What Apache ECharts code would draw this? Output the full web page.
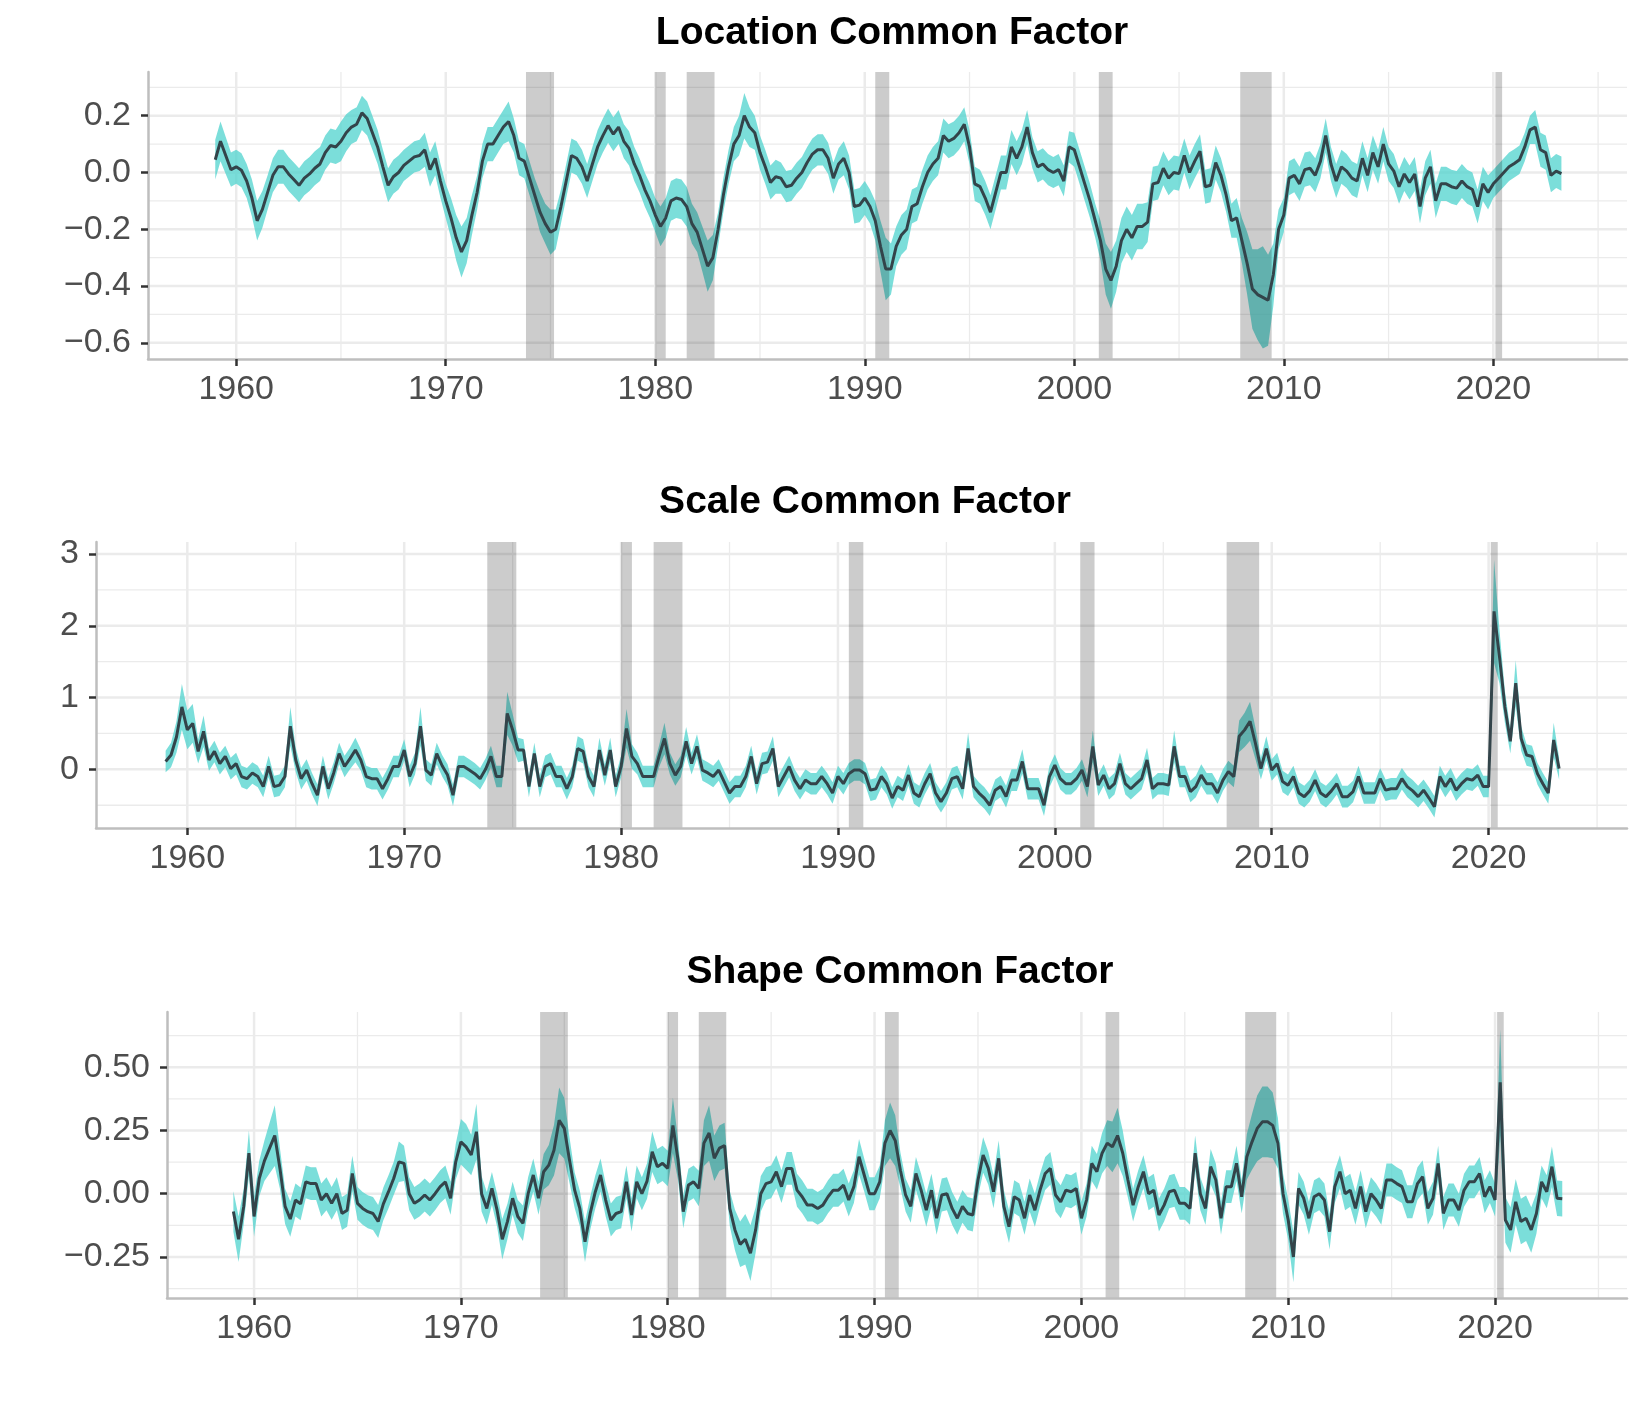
<!DOCTYPE html>
<html>
<head>
<meta charset="utf-8">
<script src="https://cdn.jsdelivr.net/npm/echarts@6/dist/echarts.min.js"></script>
<style>html,body{margin:0;padding:0;background:#fff}#chart{width:1644px;height:1409px}</style>
</head>
<body>
<div id="chart"></div>
<script>
// ---------------- DATA (quarterly, first point 1959 Q1) ----------------
const startYear = 1959;
const stepYears = 0.25;

const locationMean = [
  0.045, 0.11, 0.06, 0.01,      // 1959
  0.02, 0.008, -0.03, -0.09,    // 1960
  -0.17, -0.13, -0.07, -0.01,   // 1961
  0.02, 0.02, -0.005, -0.025,   // 1962
  -0.045, -0.02, -0.005, 0.015, // 1963
  0.03, 0.07, 0.095, 0.09,      // 1964
  0.11, 0.14, 0.16, 0.17,       // 1965
  0.21, 0.19, 0.14, 0.09,       // 1966
  0.02, -0.045, -0.015, 0.0,    // 1967
  0.025, 0.04, 0.055, 0.06,     // 1968
  0.08, 0.01, 0.05, -0.03,      // 1969
  -0.1, -0.16, -0.23, -0.28,    // 1970
  -0.24, -0.15, -0.07, 0.04,    // 1971
  0.1, 0.1, 0.13, 0.16,         // 1972
  0.18, 0.13, 0.05, 0.04,       // 1973
  -0.02, -0.08, -0.14, -0.18,   // 1974
  -0.21, -0.2, -0.12, -0.03,    // 1975
  0.06, 0.05, 0.02, -0.03,      // 1976
  0.03, 0.09, 0.13, 0.165,      // 1977
  0.135, 0.16, 0.11, 0.085,     // 1978
  0.03, -0.01, -0.06, -0.1,     // 1979
  -0.15, -0.19, -0.16, -0.1,    // 1980
  -0.09, -0.095, -0.12, -0.18,  // 1981
  -0.21, -0.27, -0.33, -0.3,    // 1982
  -0.2, -0.08, 0.02, 0.1,       // 1983
  0.13, 0.2, 0.16, 0.14,        // 1984
  0.07, 0.02, -0.035, -0.015,   // 1985
  -0.02, -0.05, -0.045, -0.02,  // 1986
  0.0, 0.035, 0.065, 0.08,      // 1987
  0.08, 0.05, -0.02, 0.03,      // 1988
  0.05, 0.0, -0.12, -0.115,     // 1989
  -0.09, -0.12, -0.17, -0.26,   // 1990
  -0.34, -0.34, -0.26, -0.22,   // 1991
  -0.2, -0.12, -0.11, -0.05,    // 1992
  0.0, 0.03, 0.05, 0.13,        // 1993
  0.11, 0.12, 0.14, 0.17,       // 1994
  0.09, -0.04, -0.05, -0.09,    // 1995
  -0.14, -0.07, 0.0, 0.0,       // 1996
  0.09, 0.05, 0.09, 0.16,       // 1997
  0.07, 0.02, 0.03, 0.01,       // 1998
  0.0, 0.01, -0.03, 0.09,       // 1999
  0.08, 0.02, -0.04, -0.1,      // 2000
  -0.17, -0.24, -0.34, -0.38,   // 2001
  -0.33, -0.24, -0.2, -0.23,    // 2002
  -0.19, -0.19, -0.175, -0.04,  // 2003
  -0.035, 0.015, -0.02, 0.0,    // 2004
  -0.004, 0.06, 0.0, 0.04,      // 2005
  0.075, -0.05, -0.045, 0.035,  // 2006
  -0.01, -0.08, -0.17, -0.16,   // 2007
  -0.24, -0.32, -0.41, -0.43,   // 2008
  -0.44, -0.45, -0.36, -0.2,    // 2009
  -0.15, -0.02, -0.01, -0.04,   // 2010
  0.01, 0.015, -0.01, 0.04,     // 2011
  0.13, 0.03, -0.03, 0.02,      // 2012
  0.005, -0.02, -0.03, 0.05,    // 2013
  -0.01, 0.07, 0.02, 0.1,       // 2014
  0.03, 0.005, -0.05, -0.005,   // 2015
  -0.035, -0.005, -0.12, -0.02, // 2016
  0.02, -0.1, -0.04, -0.04,     // 2017
  -0.05, -0.055, -0.03, -0.05,  // 2018
  -0.06, -0.12, -0.04, -0.07,   // 2019
  -0.04, -0.02, 0.0, 0.02,      // 2020
  0.032, 0.045, 0.09, 0.15,     // 2021
  0.16, 0.08, 0.07, -0.01,      // 2022
  0.005, -0.004                 // 2023
];
const locationHalfWidth = [
  .07,.07,.065,.06, .06,.06,.06,.065, .07,.065,.06,.06, .06,.06,.06,.06,   // 1959-62
  .06,.06,.06,.06, .06,.06,.06,.06, .07,.065,.06,.06, .06,.06,.06,.06,     // 1963-66
  .06,.06,.06,.06, .055,.055,.055,.055, .06,.06,.06,.06, .06,.07,.08,.09,  // 1967-70
  .08,.07,.06,.06, .06,.06,.06,.06, .07,.06,.06,.06, .06,.06,.07,.07,      // 1971-74
  .08,.07,.06,.06, .06,.06,.06,.06, .06,.06,.06,.06, .06,.06,.06,.06,      // 1975-78
  .06,.06,.06,.06, .06,.07,.07,.07, .07,.07,.07,.07, .07,.08,.09,.08,      // 1979-82
  .06,.06,.06,.06, .07,.08,.07,.06, .06,.06,.06,.06, .055,.055,.055,.055,  // 1983-86
  .055,.055,.055,.055, .055,.055,.055,.055, .06,.06,.06,.06, .06,.06,.07,.09, // 1987-90
  .11,.09,.07,.07, .07,.06,.06,.06, .06,.06,.06,.06, .06,.06,.06,.06,      // 1991-94
  .06,.06,.06,.06, .06,.06,.06,.06, .06,.06,.06,.06, .055,.055,.055,.055,  // 1995-98
  .055,.055,.055,.055, .06,.06,.06,.06, .06,.07,.09,.1, .09,.08,.08,.08,   // 1999-2002
  .08,.08,.07,.06, .06,.06,.06,.06, .06,.06,.06,.06, .06,.06,.06,.06,      // 2003-06
  .06,.06,.06,.07, .08,.11,.14,.16, .18,.16,.11,.07, .06,.06,.06,.06,      // 2007-10
  .06,.06,.06,.06, .06,.06,.06,.06, .06,.06,.06,.06, .06,.06,.06,.06,      // 2011-14
  .06,.06,.06,.06, .06,.06,.06,.06, .06,.06,.06,.06, .06,.06,.06,.06,      // 2015-18
  .06,.06,.06,.06, .05,.05,.05,.05, .05,.05,.05,.05, .06,.06,.06,.06,      // 2019-22
  .06,.06                                                                   // 2023
];

const scaleMean = [
  0.11, 0.2, 0.45, 0.87,        // 1959
  0.55, 0.64, 0.25, 0.53,       // 1960
  0.13, 0.25, 0.08, 0.18,       // 1961
  0.01, 0.08, -0.1, -0.13,      // 1962
  -0.05, -0.1, -0.24, 0.04,     // 1963
  -0.24, -0.22, -0.1, 0.6,      // 1964
  0.13, -0.13, -0.01, -0.2,     // 1965
  -0.36, 0.04, -0.27, -0.05,    // 1966
  0.22, 0.04, 0.15, 0.27,       // 1967
  0.13, -0.1, -0.13, -0.13,     // 1968
  -0.27, -0.13, 0.04, 0.04,     // 1969
  0.27, -0.1, 0.08, 0.6,        // 1970
  -0.01, -0.08, 0.22, 0.05,     // 1971
  -0.08, -0.36, 0.04, 0.04,     // 1972
  -0.01, -0.06, -0.13, 0.0,     // 1973
  0.18, -0.1, -0.1, 0.78,       // 1974
  0.55, 0.27, 0.27, -0.24,      // 1975
  0.22, -0.24, 0.04, 0.08,      // 1976
  -0.1, -0.1, -0.27, -0.1,      // 1977
  0.29, 0.25, -0.1, -0.24,      // 1978
  0.27, -0.08, 0.27, -0.24,     // 1979
  0.04, 0.57, 0.18, 0.08,       // 1980
  -0.1, -0.1, -0.1, 0.18,       // 1981
  0.43, 0.08, -0.08, 0.04,      // 1982
  0.39, 0.08, 0.32, -0.01,      // 1983
  -0.05, -0.1, -0.01, -0.17,    // 1984
  -0.33, -0.24, -0.24, -0.1,    // 1985
  0.18, -0.2, 0.08, 0.1,        // 1986
  0.29, -0.24, -0.1, 0.04,      // 1987
  -0.15, -0.27, -0.15, -0.2,    // 1988
  -0.2, -0.1, -0.2, -0.33,      // 1989
  -0.1, -0.2, -0.06, -0.01,     // 1990
  -0.01, -0.06, -0.29, -0.27,   // 1991
  -0.1, -0.2, -0.4, -0.24,      // 1992
  -0.29, -0.08, -0.33, -0.38,   // 1993
  -0.2, -0.06, -0.33, -0.45,    // 1994
  -0.33, -0.13, -0.1, -0.27,    // 1995
  0.29, -0.24, -0.33, -0.4,     // 1996
  -0.5, -0.29, -0.24, -0.38,    // 1997
  -0.15, -0.15, 0.11, -0.27,    // 1998
  -0.27, -0.27, -0.5, -0.1,     // 1999
  0.06, -0.13, -0.2, -0.2,      // 2000
  -0.13, -0.01, -0.24, 0.32,    // 2001
  -0.22, -0.08, -0.27, -0.2,    // 2002
  0.08, -0.2, -0.27, -0.2,      // 2003
  -0.13, 0.13, -0.27, -0.2,     // 2004
  -0.2, -0.22, 0.32, -0.1,      // 2005
  -0.1, -0.31, -0.24, -0.08,    // 2006
  -0.2, -0.2, -0.33, -0.15,     // 2007
  -0.03, -0.1, 0.46, 0.55,      // 2008
  0.67, 0.36, 0.01, 0.29,       // 2009
  -0.01, 0.08, -0.17, -0.22,    // 2010
  -0.1, -0.33, -0.38, -0.3,     // 2011
  -0.15, -0.33, -0.38, -0.3,    // 2012
  -0.2, -0.38, -0.38, -0.31,    // 2013
  -0.1, -0.33, -0.33, -0.33,    // 2014
  -0.13, -0.29, -0.27, -0.27,   // 2015
  -0.13, -0.24, -0.3, -0.38,    // 2016
  -0.29, -0.4, -0.52, -0.1,     // 2017
  -0.24, -0.13, -0.29, -0.2,    // 2018
  -0.13, -0.15, -0.08, -0.24,   // 2019
  -0.24, 2.2, 1.57, 0.87,       // 2020
  0.39, 1.2, 0.43, 0.2,         // 2021
  0.18, -0.06, -0.2, -0.33,     // 2022
  0.41, 0.01                    // 2023
];
const scaleHalfWidth = [
  .15,.17,.22,.32, .27,.27,.17,.22, .15,.15,.15,.15, .15,.15,.15,.15,      // 1959-62
  .15,.15,.15,.15, .15,.15,.15,.27, .17,.15,.15,.15, .15,.15,.15,.15,      // 1963-66
  .15,.15,.15,.17, .15,.15,.15,.15, .15,.15,.15,.15, .15,.15,.15,.27,      // 1967-70
  .15,.15,.15,.15, .15,.15,.15,.15, .15,.15,.15,.15, .15,.15,.15,.3,       // 1971-74
  .22,.17,.15,.15, .15,.15,.15,.15, .15,.15,.15,.15, .17,.17,.15,.15,      // 1975-78
  .17,.15,.17,.15, .15,.27,.17,.15, .15,.15,.15,.15, .22,.15,.15,.15,      // 1979-82
  .2,.15,.17,.15, .15,.15,.15,.15, .15,.15,.15,.15, .15,.15,.15,.15,       // 1983-86
  .17,.15,.15,.15, .15,.15,.15,.15, .15,.15,.15,.15, .15,.15,.15,.15,      // 1987-90
  .15,.15,.15,.15, .15,.15,.15,.15, .15,.15,.15,.15, .15,.15,.15,.15,      // 1991-94
  .15,.15,.15,.15, .22,.15,.15,.15, .15,.15,.15,.15, .15,.15,.17,.15,      // 1995-98
  .15,.15,.15,.15, .15,.15,.15,.15, .15,.15,.15,.22, .15,.15,.15,.15,      // 1999-2002
  .15,.15,.15,.15, .15,.17,.15,.15, .15,.15,.22,.15, .15,.15,.15,.15,      // 2003-06
  .15,.15,.15,.15, .15,.15,.22,.24, .27,.22,.15,.17, .15,.15,.15,.15,      // 2007-10
  .15,.15,.15,.15, .15,.15,.15,.15, .15,.15,.15,.15, .15,.15,.15,.15,      // 2011-14
  .15,.15,.15,.15, .15,.15,.15,.15, .15,.15,.15,.15, .15,.15,.15,.15,      // 2015-18
  .15,.15,.15,.15, .15,.72,.37,.22, .17,.32,.17,.15, .15,.15,.15,.15,      // 2019-22
  .24,.15                                                                   // 2023
];

const shapeMean = [
  -0.07, -0.18, -0.05, 0.16,     // 1959
  -0.09, 0.06, 0.13, 0.18,       // 1960
  0.23, 0.1, -0.05, -0.1,        // 1961
  -0.025, -0.04, 0.047, 0.04,    // 1962
  0.04, -0.025, 0.0, -0.038,     // 1963
  0.0, -0.078, -0.065, 0.08,     // 1964
  -0.038, -0.058, -0.071, -0.078,// 1965
  -0.11, -0.04, 0.008, 0.06,     // 1966
  0.126, 0.12, 0.0, -0.038,      // 1967
  -0.025, -0.005, -0.025, 0.0,   // 1968
  0.028, 0.047, -0.018, 0.126,   // 1969
  0.205, 0.185, 0.153, 0.245,    // 1970
  0.0, -0.058, 0.021, -0.065,    // 1971
  -0.18, -0.11, -0.018, -0.09,   // 1972
  -0.117, 0.0, 0.074, -0.018,    // 1973
  0.087, 0.113, 0.172, 0.29,     // 1974
  0.258, 0.133, 0.014, -0.058,   // 1975
  -0.19, -0.078, 0.008, 0.074,   // 1976
  -0.025, -0.104, -0.078, -0.071,// 1977
  0.047, -0.084, 0.047, 0.0,     // 1978
  0.05, 0.166, 0.107, 0.12,      // 1979
  0.1, 0.27, 0.133, -0.071,      // 1980
  0.034, 0.047, 0.021, 0.2,      // 1981
  0.24, 0.14, 0.18, 0.19,        // 1982
  -0.058, -0.143, -0.2, -0.18,   // 1983
  -0.235, -0.143, 0.0, 0.04,     // 1984
  0.047, 0.087, 0.028, 0.1,      // 1985
  0.1, 0.014, -0.012, -0.045,    // 1986
  -0.045, -0.058, -0.045, -0.012,// 1987
  0.014, 0.014, 0.034, -0.025,   // 1988
  0.028, 0.146, 0.074, 0.0,      // 1989
  0.0, 0.047, 0.2, 0.25,         // 1990
  0.21, 0.093, -0.005, -0.05,    // 1991
  0.08, 0.014, -0.065, 0.014,    // 1992
  -0.097, -0.005, 0.0, -0.058,   // 1993
  -0.097, -0.05, -0.078, -0.084, // 1994
  0.054, 0.153, 0.1, 0.008,      // 1995
  0.14, -0.05, -0.13, -0.012,    // 1996
  -0.025, -0.097, -0.005, -0.065,// 1997
  0.014, 0.08, 0.1, -0.005,      // 1998
  -0.032, 0.014, 0.008, 0.021,   // 1999
  -0.097, -0.025, 0.12, 0.087,   // 2000
  0.16, 0.2, 0.185, 0.23,        // 2001
  0.16, 0.054, -0.045, 0.028,    // 2002
  0.087, 0.0, 0.014, -0.084,     // 2003
  -0.045, 0.008, 0.014, -0.038,  // 2004
  -0.038, -0.058, 0.16, 0.0,     // 2005
  -0.058, 0.107, 0.054, -0.097,  // 2006
  0.028, 0.028, 0.12, -0.012,    // 2007
  0.146, 0.205, 0.258, 0.284,    // 2008
  0.284, 0.27, 0.2, 0.0,         // 2009
  -0.104, -0.25, 0.021, -0.018,  // 2010
  -0.097, -0.012, 0.0, -0.025,   // 2011
  -0.15, 0.028, 0.087, 0.0,      // 2012
  0.014, -0.058, 0.028, -0.071,  // 2013
  0.0, -0.025, -0.058, 0.054,    // 2014
  0.054, 0.04, 0.028, -0.032,    // 2015
  -0.032, 0.04, 0.067, -0.058,   // 2016
  -0.018, 0.12, -0.078, -0.025,  // 2017
  -0.025, -0.065, 0.014, 0.047,  // 2018
  0.047, 0.08, -0.012, 0.028,    // 2019
  -0.025, 0.44, -0.104, -0.143,  // 2020
  -0.032, -0.11, -0.097, -0.143, // 2021
  -0.078, 0.047, 0.008, 0.107,   // 2022
  -0.018, -0.02                  // 2023
];
const shapeHalfWidth = [
  .08,.09,.07,.09, .08,.07,.08,.1, .12,.08,.07,.07, .065,.065,.065,.065,   // 1959-62
  .065,.065,.065,.065, .065,.065,.065,.07, .065,.065,.065,.065, .065,.065,.065,.065, // 1963-66
  .08,.07,.065,.065, .065,.065,.065,.065, .065,.065,.065,.07, .09,.09,.08,.11, // 1967-70
  .07,.065,.065,.065, .08,.07,.065,.065, .07,.065,.065,.065, .07,.08,.1,.13, // 1971-74
  .12,.09,.07,.07, .08,.065,.065,.065, .065,.065,.065,.065, .065,.065,.065,.065, // 1975-78
  .07,.08,.07,.07, .07,.11,.08,.065, .065,.065,.07,.09, .11,.09,.09,.09,   // 1979-82
  .07,.08,.09,.1, .11,.09,.07,.065, .065,.065,.065,.065, .065,.065,.065,.065, // 1983-86
  .065,.065,.065,.065, .065,.065,.065,.065, .065,.07,.065,.065, .065,.065,.09,.11, // 1987-90
  .1,.07,.065,.065, .065,.065,.065,.065, .065,.065,.065,.065, .065,.065,.065,.065, // 1991-94
  .065,.07,.065,.065, .07,.065,.065,.065, .065,.065,.065,.065, .065,.065,.065,.065, // 1995-98
  .065,.065,.065,.065, .065,.065,.07,.07, .08,.09,.1,.11, .09,.07,.065,.065, // 1999-2002
  .065,.065,.065,.065, .065,.065,.065,.065, .065,.065,.07,.065, .065,.07,.065,.065, // 2003-06
  .065,.065,.07,.065, .09,.11,.13,.14, .14,.13,.1,.08, .08,.1,.065,.065,   // 2007-10
  .065,.065,.065,.065, .07,.065,.065,.065, .065,.065,.065,.065, .065,.065,.065,.065, // 2011-14
  .065,.065,.065,.065, .065,.065,.065,.065, .065,.07,.065,.065, .065,.065,.065,.065, // 2015-18
  .065,.065,.065,.065, .065,.21,.09,.09, .09,.09,.09,.09, .08,.065,.065,.08, // 2019-22
  .07,.07                                                                   // 2023
];

// NBER recessions shown (start, end) in decimal years
const recessions = [
  [1973.83, 1975.17], [1980.0, 1980.5], [1981.5, 1982.83], [1990.5, 1991.17],
  [2001.17, 2001.83], [2007.92, 2009.42], [2020.1, 2020.42]
];

// axis ticks
const yearTicks = [1960, 1970, 1980, 1990, 2000, 2010, 2020];
const yearMinorTicks = [1965, 1975, 1985, 1995, 2005, 2015, 2025];
const locationTicks = [-0.6, -0.4, -0.2, 0, 0.2];
const locationMinorTicks = [-0.5, -0.3, -0.1, 0.1, 0.3];
const scaleTicks = [0, 1, 2, 3];
const scaleMinorTicks = [-0.5, 0.5, 1.5, 2.5];
const shapeTicks = [-0.25, 0, 0.25, 0.5];
const shapeMinorTicks = [-0.375, -0.125, 0.125, 0.375, 0.625];

const titles = ['Location Common Factor', 'Scale Common Factor', 'Shape Common Factor'];

// ---------------- CHART ----------------
const times = locationMean.map((_, i) => startYear + i * stepYears);
const X_MIN = 1955.79, X_MAX = 2026.38;

const FONT = '"Liberation Sans", Arial, Helvetica, sans-serif';
const LINE_COLOR = '#33444A';
const RIBBON = 'rgba(72,209,204,0.72)';
const SHADE = 'rgba(0,0,0,0.2)';
const GRID_COLOR = '#EBEBEB';

const minus = s => s.replace('-', '\u2212');

const panels = [
  { grid: {left: 148, right: 17, top: 72, height: 287}, yMin: -0.657, yMax: 0.354,
    ticks: locationTicks, minor: locationMinorTicks, mean: locationMean, hw: locationHalfWidth,
    fmt: v => minus(v.toFixed(1)), titleX: 892, titleY: 33 },
  { grid: {left: 96, right: 17, top: 542, height: 286}, yMin: -0.817, yMax: 3.167,
    ticks: scaleTicks, minor: scaleMinorTicks, mean: scaleMean, hw: scaleHalfWidth,
    fmt: v => minus(String(v)), titleX: 865, titleY: 502 },
  { grid: {left: 167, right: 17, top: 1012, height: 286}, yMin: -0.412, yMax: 0.718,
    ticks: shapeTicks, minor: shapeMinorTicks, mean: shapeMean, hw: shapeHalfWidth,
    fmt: v => minus(v.toFixed(2)), titleX: 900, titleY: 972 }
];

function gridLinesRender(p) {
  return function (params, api) {
    const cs = params.coordSys;
    const kids = [];
    const vline = (v, w) => {
      const x = api.coord([v, p.yMin])[0];
      kids.push({type: 'line', shape: {x1: x, y1: cs.y, x2: x, y2: cs.y + cs.height},
        style: {stroke: GRID_COLOR, lineWidth: w}});
    };
    const hline = (v, w) => {
      const y = api.coord([X_MIN, v])[1];
      kids.push({type: 'line', shape: {x1: cs.x, y1: y, x2: cs.x + cs.width, y2: y},
        style: {stroke: GRID_COLOR, lineWidth: w}});
    };
    yearMinorTicks.forEach(v => vline(v, 1.3));
    p.minor.forEach(v => hline(v, 1.3));
    yearTicks.forEach(v => vline(v, 2.5));
    p.ticks.forEach(v => hline(v, 2.5));
    return {type: 'group', children: kids, silent: true};
  };
}
function ribbonRender(p) {
  return function (params, api) {
    const pts = [];
    for (let i = 0; i < times.length; i++) pts.push(api.coord([times[i], p.mean[i] + p.hw[i]]));
    for (let i = times.length - 1; i >= 0; i--) pts.push(api.coord([times[i], p.mean[i] - p.hw[i]]));
    return {type: 'polygon', shape: {points: pts}, style: {fill: RIBBON}, silent: true};
  };
}
function shadeRender(p) {
  return function (params, api) {
    const cs = params.coordSys;
    return {type: 'group', silent: true, children: recessions.map(r => {
      const x0 = api.coord([r[0], p.yMin])[0];
      const x1 = api.coord([r[1], p.yMin])[0];
      return {type: 'rect', shape: {x: x0, y: cs.y, width: x1 - x0, height: cs.height},
        style: {fill: SHADE}};
    })};
  };
}

const option = {
  animation: false,
  backgroundColor: '#ffffff',
  grid: panels.map(p => p.grid),
  xAxis: panels.map((p, i) => ({
    gridIndex: i, type: 'value', min: X_MIN, max: X_MAX, z: 10,
    axisLine: {show: true, onZero: false, lineStyle: {color: '#BEBEBE', width: 2.5}},
    axisTick: {show: true, customValues: yearTicks, length: 7, lineStyle: {color: '#333333', width: 2.5}},
    axisLabel: {show: true, customValues: yearTicks, formatter: v => String(v), fontSize: 34,
      color: '#4D4D4D', fontFamily: FONT, margin: 14},
    splitLine: {show: false}
  })),
  yAxis: panels.map((p, i) => ({
    gridIndex: i, type: 'value', min: p.yMin, max: p.yMax, z: 10,
    axisLine: {show: true, onZero: false, lineStyle: {color: '#BEBEBE', width: 2.5}},
    axisTick: {show: true, customValues: p.ticks, length: 7, lineStyle: {color: '#333333', width: 2.5}},
    axisLabel: {show: true, customValues: p.ticks, formatter: p.fmt, fontSize: 34,
      color: '#4D4D4D', fontFamily: FONT, margin: 17},
    splitLine: {show: false}
  })),
  series: [],
  graphic: panels.map((p, i) => ({
    type: 'text', x: p.titleX, y: p.titleY, silent: true,
    style: {text: titles[i], fill: '#000000', fontSize: 39, fontWeight: 'bold', fontFamily: FONT,
      textAlign: 'center', textVerticalAlign: 'middle', align: 'center', verticalAlign: 'middle'}
  }))
};

panels.forEach((p, i) => {
  option.series.push({
    type: 'custom', xAxisIndex: i, yAxisIndex: i, z: 1, silent: true,
    renderItem: gridLinesRender(p), data: [[2000, 0]]
  });
  option.series.push({
    type: 'custom', xAxisIndex: i, yAxisIndex: i, z: 2, silent: true,
    renderItem: ribbonRender(p), data: [[2000, 0]]
  });
  option.series.push({
    type: 'custom', xAxisIndex: i, yAxisIndex: i, z: 3, silent: true,
    renderItem: shadeRender(p), data: [[2000, 0]]
  });
  option.series.push({
    type: 'line', xAxisIndex: i, yAxisIndex: i, z: 4, silent: true,
    showSymbol: false, symbol: 'none',
    data: times.map((t, k) => [t, p.mean[k]]),
    lineStyle: {color: LINE_COLOR, width: 3}
  });
});

const chart = echarts.init(document.getElementById('chart'), null, {renderer: 'canvas'});
chart.setOption(option);
</script>
</body>
</html>
